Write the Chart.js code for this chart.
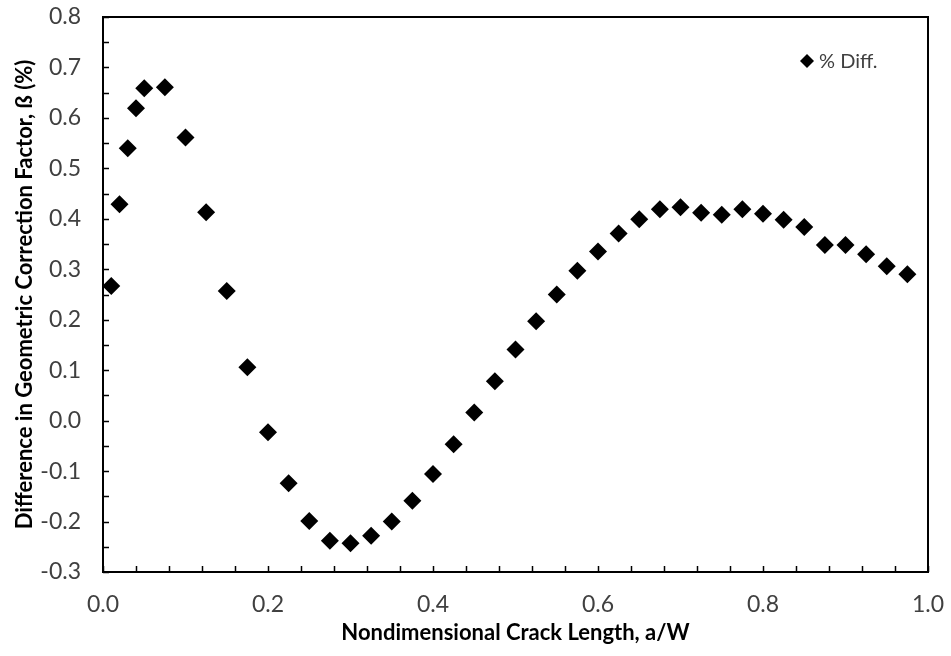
<!DOCTYPE html>
<html>
<head>
<meta charset="utf-8">
<script src="https://cdn.jsdelivr.net/npm/chart.js@4"></script>
<style>
    html, body { margin: 0; padding: 0; background: #fff; }
    #wrap { width: 951px; height: 656px; }
</style>
</head>
<body>
<div id="wrap"><canvas id="chart" width="951" height="656"></canvas></div>
<script>
const crackLength = [0.01, 0.02, 0.03, 0.04, 0.05, 0.075, 0.1, 0.125, 0.15, 0.175,
    0.2, 0.225, 0.25, 0.275, 0.3, 0.325, 0.35, 0.375, 0.4, 0.425,
    0.45, 0.475, 0.5, 0.525, 0.55, 0.575, 0.6, 0.625, 0.65, 0.675,
    0.7, 0.725, 0.75, 0.775, 0.8, 0.825, 0.85, 0.875, 0.9, 0.925,
    0.95, 0.975];
const pctDiff = [0.267, 0.429, 0.540, 0.619, 0.659, 0.661, 0.561, 0.413, 0.257, 0.106,
    -0.023, -0.124, -0.199, -0.238, -0.243, -0.228, -0.200, -0.159, -0.106, -0.047,
    0.016, 0.078, 0.141, 0.197, 0.250, 0.297, 0.335, 0.371, 0.399, 0.419,
    0.423, 0.412, 0.408, 0.419, 0.410, 0.398, 0.384, 0.348, 0.348, 0.330,
    0.306, 0.290];
const seriesName = "% Diff.";
const xTitle = "Nondimensional Crack Length, a/W";
const yTitle = "Difference in Geometric Correction Factor, \u00DF (%)";

const FONT = "Lato, 'Open Sans', sans-serif";
const TEXT = "#404040";

// box round the plot, ticks pointing inwards, legend inside the plot
const frame = {
    id: "frame",
    afterDraw(c) {
        const { ctx, chartArea: a, scales } = c;
        ctx.save();
        ctx.strokeStyle = "#000";
        ctx.lineWidth = 2;
        ctx.strokeRect(a.left, a.top, a.right - a.left, a.bottom - a.top);

        ctx.lineWidth = 1.5;
        ctx.beginPath();
        for (let i = 0; i <= 25; i++) {
            const px = Math.round(scales.x.getPixelForValue(i * 0.04)) + 0.5;
            ctx.moveTo(px, a.bottom);
            ctx.lineTo(px, a.bottom - 6);
        }
        for (let i = 0; i <= 22; i++) {
            const py = Math.round(scales.y.getPixelForValue(-0.3 + i * 0.05)) + 0.5;
            ctx.moveTo(a.left, py);
            ctx.lineTo(a.left + 6, py);
        }
        ctx.stroke();

        // legend
        const lx = 807, ly = 61, r = 7;
        ctx.fillStyle = "#000";
        ctx.beginPath();
        ctx.moveTo(lx, ly - r);
        ctx.lineTo(lx + r, ly);
        ctx.lineTo(lx, ly + r);
        ctx.lineTo(lx - r, ly);
        ctx.closePath();
        ctx.fill();
        ctx.fillStyle = TEXT;
        ctx.font = "20px " + FONT;
        ctx.textBaseline = "middle";
        ctx.fillText(c.data.datasets[0].label, lx + 12, ly + 1);
        ctx.restore();
    }
};

new Chart(document.getElementById("chart"), {
    type: "scatter",
    data: {
        datasets: [{
            label: seriesName,
            data: crackLength.map((x, i) => ({ x, y: pctDiff[i] })),
            pointStyle: "rectRot",
            pointRadius: 9,
            backgroundColor: "#000",
            borderColor: "#000",
            borderWidth: 0
        }]
    },
    options: {
        responsive: false,
        animation: false,
        layout: { padding: { left: 0, top: 17, right: 23, bottom: 0 } },
        plugins: { legend: { display: false }, tooltip: { enabled: false } },
        scales: {
            x: {
                type: "linear",
                min: 0, max: 1,
                afterFit(s) { s.height = 84; s.paddingLeft = 0; s.paddingRight = 0; },
                grid: { display: false, drawTicks: false },
                border: { display: false },
                ticks: {
                    stepSize: 0.2, padding: 19, color: TEXT,
                    font: { family: FONT, size: 23 },
                    callback: v => v.toFixed(1)
                },
                title: {
                    display: true, text: xTitle, color: "#000",
                    font: { family: FONT, size: 22, weight: "bold" },
                    padding: { top: 0, bottom: 10 }
                }
            },
            y: {
                min: -0.3, max: 0.8,
                afterFit(s) { s.width = 103; s.paddingTop = 0; s.paddingBottom = 0; },
                grid: { display: false, drawTicks: false },
                border: { display: false },
                ticks: {
                    stepSize: 0.1, padding: 22, color: TEXT,
                    font: { family: FONT, size: 23 },
                    callback: v => v.toFixed(1)
                },
                title: {
                    display: true, text: yTitle, color: "#000",
                    font: { family: FONT, size: 22, weight: "bold" },
                    padding: { top: 12, bottom: 0 }
                }
            }
        }
    },
    plugins: [frame]
});
</script>
</body>
</html>
